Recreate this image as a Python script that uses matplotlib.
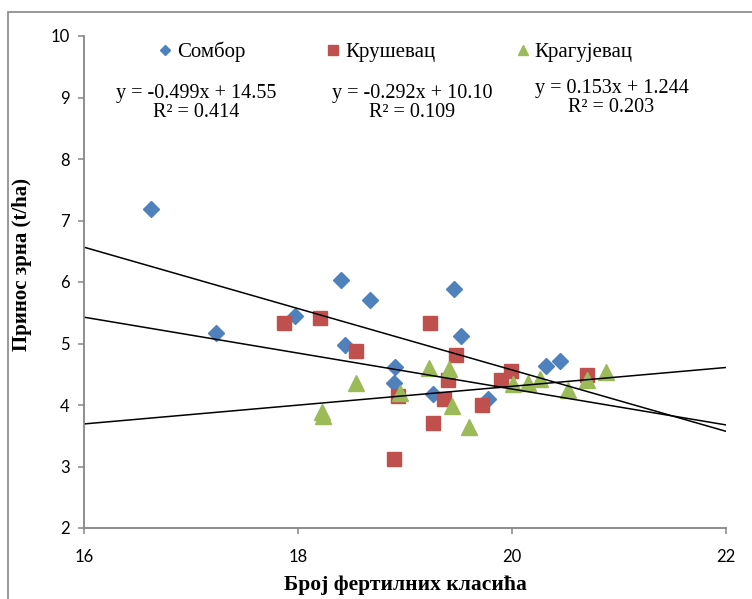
import numpy as np
import matplotlib.pyplot as plt
from matplotlib.patches import Rectangle

# data
sombor_x = [16.63, 17.23, 17.97, 18.40, 18.44, 18.67, 18.91, 18.90, 19.26, 19.46, 19.52, 19.78, 20.32, 20.45]
sombor_y = [7.18, 5.17, 5.45, 6.03, 4.97, 5.70, 4.62, 4.35, 4.18, 5.88, 5.12, 4.10, 4.63, 4.72]

krusevac_x = [17.87, 18.21, 18.54, 18.90, 18.93, 19.23, 19.26, 19.36, 19.40, 19.48, 19.72, 19.90, 19.99, 20.70]
krusevac_y = [5.33, 5.41, 4.87, 3.13, 4.15, 5.33, 3.70, 4.10, 4.40, 4.82, 4.00, 4.40, 4.55, 4.49]

kragujevac_x = [18.22, 18.23, 18.54, 18.95, 19.22, 19.41, 19.44, 19.60, 20.01, 20.15, 20.26, 20.52, 20.70, 20.88]
kragujevac_y = [3.88, 3.82, 4.36, 4.19, 4.60, 4.58, 3.99, 3.64, 4.34, 4.35, 4.43, 4.24, 4.40, 4.53]

# trend lines as printed in the chart
slopes = [-0.499, -0.292, 0.153]
intercepts = [14.55, 10.10, 1.244]
r2 = [0.414, 0.109, 0.203]

names = ['Сомбор', 'Крушевац', 'Крагујевац']
colors = ['#4F81BD', '#C0504D', '#9BBB59']
markers = ['D', 's', '^']
sizes = [8.5, 10.5, 11]

fig = plt.figure(figsize=(7.52, 5.99), dpi=100)
fig.patches.append(Rectangle((8/752, -0.1), 1.2, 1 - 12/599 + 0.1, transform=fig.transFigure,
                             fill=False, edgecolor='#868686', linewidth=1.2))
ax = fig.add_axes([84/752, 1 - 528/599, 642/752, 492/599])

xs = [sombor_x, krusevac_x, kragujevac_x]
ys = [sombor_y, krusevac_y, kragujevac_y]
for x, y, n, c, m, s in zip(xs, ys, names, colors, markers, sizes):
    ax.plot(x, y, linestyle='none', marker=m, color=c, markersize=s, label=n)

xl = np.array([16, 22])
for k, b in zip(slopes, intercepts):
    ax.plot(xl, k * xl + b, color='black', linewidth=1.1)

serif = 'Liberation Serif'
eq_pos = [(17.05, 9.07), (19.07, 9.07), (20.93, 9.15)]
for (tx, ty), k, b, r in zip(eq_pos, slopes, intercepts, r2):
    bstr = f'{b:.2f}' if b > 5 else f'{b:.3f}'
    ax.text(tx, ty, f'y = {k:.3f}x + {bstr}', ha='center', va='center', family=serif, fontsize=14.5)
    ax.text(tx, ty - 0.32, f'R² = {r:.3f}', ha='center', va='center', family=serif, fontsize=14.5)

ax.legend(loc='center', bbox_to_anchor=(0.484, 0.967), ncol=3, frameon=False,
          prop={'family': serif, 'size': 15}, handletextpad=0.18, columnspacing=3.8,
          handlelength=0.8, markerscale=0.65, borderpad=0)

ax.set_xlim(16, 22)
ax.set_ylim(2, 10)
ax.set_xticks([16, 18, 20, 22])
ax.set_yticks(range(2, 11))
for sp in ['top', 'right']:
    ax.spines[sp].set_visible(False)
for sp in ['left', 'bottom']:
    ax.spines[sp].set_color('#868686')
    ax.spines[sp].set_linewidth(1.3)
ax.tick_params(colors='#868686', labelcolor='black', length=4.5, width=1.1, labelsize=12)
ax.tick_params(axis='x', pad=10.5)
ax.tick_params(axis='y', pad=6)
for lab in ax.get_xticklabels() + ax.get_yticklabels():
    lab.set_family('Lato')

ax.set_xlabel('Број фертилних класића', family=serif, fontweight='bold', fontsize=15.5)
ax.set_ylabel('Принос зрна (t/ha)', family=serif, fontweight='bold', fontsize=15)
ax.xaxis.set_label_coords(0.5, -0.095)
ax.yaxis.set_label_coords(-0.081, 0.535)

fig.savefig('out.png', dpi=100)
